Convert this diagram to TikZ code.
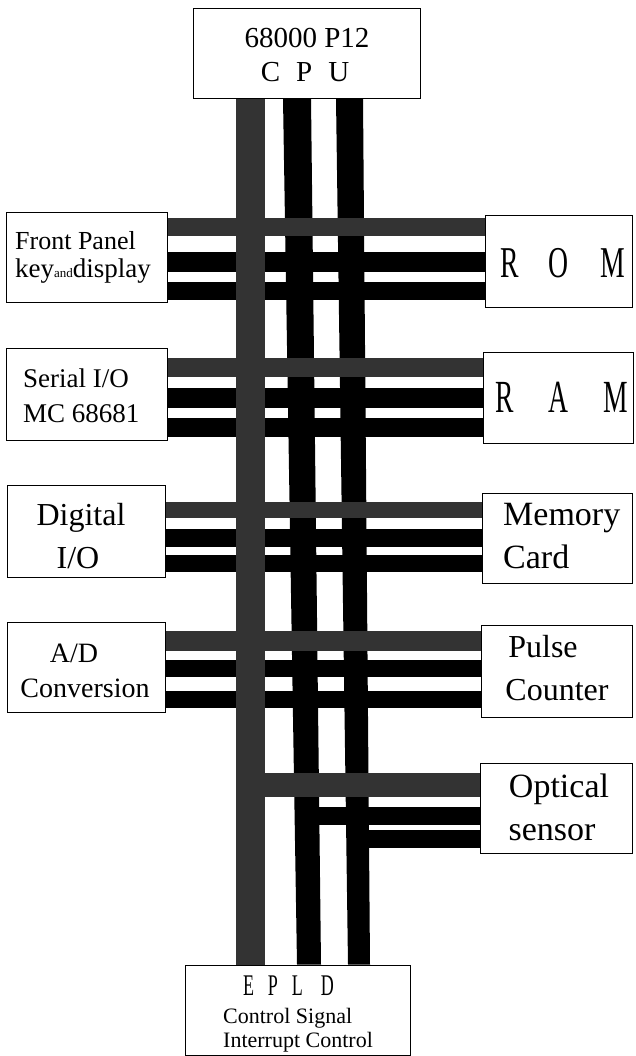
\documentclass[tikz,border=0pt]{standalone}
\usepackage{fontspec}
\setmainfont{Liberation Serif}
\usepackage{graphicx}
\pgfdeclarelayer{bg}
\pgfsetlayers{bg,main}
\begin{document}
\begin{tikzpicture}[x=1pt,y=-1pt,
  box/.style={draw=black, line width=0.9pt, fill=white, inner sep=0pt},
  blk/.style={fill=black},
  gry/.style={fill=black!80},
  fs/.style={font=\fontsize{#1}{#1}\selectfont, inner sep=0pt},
]
\useasboundingbox (0,0) rectangle (636,1056);

% boxes
\node[box, minimum width=227pt, minimum height=90pt] (cpu)  at (306.5,53)  {};
\node[box, minimum width=161pt, minimum height=90pt] (fp)   at (86.5,257)  {};
\node[box, minimum width=147pt, minimum height=92pt] (rom)  at (558.5,261) {};
\node[box, minimum width=161pt, minimum height=92pt] (ser)  at (86.5,394)  {};
\node[box, minimum width=150pt, minimum height=91pt] (ram)  at (558,397.5) {};
\node[box, minimum width=158pt, minimum height=92pt] (dig)  at (86,531)    {};
\node[box, minimum width=150pt, minimum height=90pt] (mem)  at (557,538)   {};
\node[box, minimum width=158pt, minimum height=90pt] (ad)   at (86,667)    {};
\node[box, minimum width=151pt, minimum height=92pt] (pul)  at (556.5,671) {};
\node[box, minimum width=152pt, minimum height=90pt] (opt)  at (556,808)   {};
\node[box, minimum width=225pt, minimum height=90pt] (epld) at (297.5,1010) {};

% texts
\node[fs=29, anchor=base] (cpu1) at (307,48) {68000 P12};
\node[fs=29, anchor=base] (cpu2) at (305,82) {C\hspace{16pt}P\hspace{16pt}U};

\node[fs=26, anchor=base west] (fp1) at (15,250) {Front Panel};
\node[fs=27, anchor=base west] (fp2) at (15,278) {key{\fontsize{13}{13}\selectfont and}display};

\node[fs=44, anchor=base west] (rom1) at (500,277) {\scalebox{0.63}[1]{R\hspace{48pt}O\hspace{50pt}M}};

\node[fs=27, anchor=base west] (ser1) at (23,387) {Serial I/O};
\node[fs=27, anchor=base west] (ser2) at (23,422) {MC 68681};

\node[fs=46, anchor=base west] (ram1) at (495,412) {\scalebox{0.6}[1]{R\hspace{58pt}A\hspace{58pt}M}};

\node[fs=32, anchor=base] (dig1) at (81,525) {Digital};
\node[fs=32, anchor=base] (dig2) at (78,568) {I/O};

\node[fs=34, anchor=base west] (mem1) at (503,525) {Memory};
\node[fs=34, anchor=base west] (mem2) at (503,568) {Card};

\node[fs=28, anchor=base] (ad1) at (74,662) {A/D};
\node[fs=28, anchor=base] (ad2) at (85,697) {Conversion};

\node[fs=32, anchor=base] (pul1) at (543,657) {Pulse};
\node[fs=32, anchor=base] (pul2) at (557,700) {Counter};

\node[fs=34, anchor=base] (opt1) at (559,797) {Optical};
\node[fs=34, anchor=base] (opt2) at (552,840) {sensor};

\node[fs=30, anchor=base west] (ep1) at (243,995) {\scalebox{0.6}[1]{E\hspace{23pt}P\hspace{23pt}L\hspace{30pt}D}};
\node[fs=22, anchor=base west] (ep2) at (223,1023) {Control Signal};
\node[fs=22, anchor=base west] (ep3) at (223,1047) {Interrupt Control};

\begin{pgfonlayer}{bg}
\fill[white] (0,0) rectangle (636,1056);
% black horizontal buses
\foreach \a/\b/\ya/\yb in {fp/rom/252/272, fp/rom/282/300, ser/ram/388/408, ser/ram/418/437,
    dig/mem/529/547, dig/mem/555/572, ad/pul/660/677, ad/pul/691/708}
  \fill[blk] (\a.east |- 0,\ya) rectangle (\b.west |- 0,\yb);
\fill[blk] (300,807) rectangle (opt.west |- 0,825);
\fill[blk] (352,830) rectangle (opt.west |- 0,848);
% black vertical buses
\fill[blk] (283,0 |- cpu.south) -- (311,0 |- cpu.south) -- (321,0 |- epld.north) -- (297,0 |- epld.north) -- cycle;
\fill[blk] (336,0 |- cpu.south) -- (363,0 |- cpu.south) -- (370,0 |- epld.north) -- (348,0 |- epld.north) -- cycle;
% shaded vertical bus
\fill[gry] (236,0 |- cpu.south) rectangle (265,0 |- epld.north);
% shaded horizontal buses
\foreach \a/\b/\ya/\yb in {fp/rom/218/236, ser/ram/358/377, dig/mem/502/518, ad/pul/631/651}
  \fill[gry] (\a.east |- 0,\ya) rectangle (\b.west |- 0,\yb);
\fill[gry] (236,773) rectangle (opt.west |- 0,797);
\end{pgfonlayer}
\end{tikzpicture}
\end{document}
